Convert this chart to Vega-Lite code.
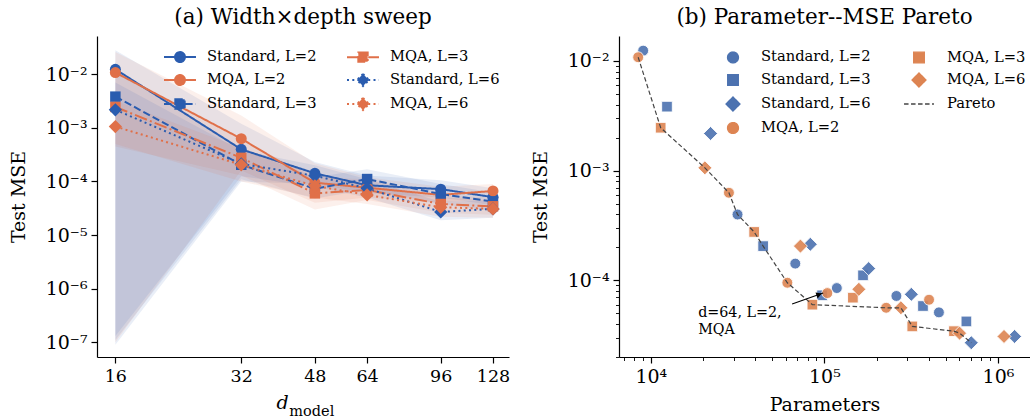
{
  "$schema": "https://vega.github.io/schema/vega-lite/v6.json",
  "padding": {"left": 9, "top": 6, "right": 0, "bottom": 0},
  "datasets": {
    "left": [
      {"s": "Standard, L=2", "L": 2, "d": 16, "mse": 0.0124, "lo": 9e-8, "hi": 0.028},
      {"s": "Standard, L=2", "L": 2, "d": 32, "mse": 0.000398, "lo": 0.0001, "hi": 0.0012},
      {"s": "Standard, L=2", "L": 2, "d": 48, "mse": 0.000142, "lo": 0.00009, "hi": 0.00023},
      {"s": "Standard, L=2", "L": 2, "d": 64, "mse": 0.000085, "lo": 0.00006, "hi": 0.00013},
      {"s": "Standard, L=2", "L": 2, "d": 96, "mse": 0.000072, "lo": 0.00005, "hi": 0.000105},
      {"s": "Standard, L=2", "L": 2, "d": 128, "mse": 0.000051, "lo": 0.000036, "hi": 0.000075},
      {"s": "MQA, L=2", "L": 2, "d": 16, "mse": 0.0108, "lo": 1e-7, "hi": 0.026},
      {"s": "MQA, L=2", "L": 2, "d": 32, "mse": 0.000628, "lo": 0.00016, "hi": 0.0017},
      {"s": "MQA, L=2", "L": 2, "d": 48, "mse": 0.000095, "lo": 0.00004, "hi": 0.00022},
      {"s": "MQA, L=2", "L": 2, "d": 64, "mse": 0.0000765, "lo": 0.00005, "hi": 0.00012},
      {"s": "MQA, L=2", "L": 2, "d": 96, "mse": 0.0000562, "lo": 0.00004, "hi": 0.00008},
      {"s": "MQA, L=2", "L": 2, "d": 128, "mse": 0.0000665, "lo": 0.00005, "hi": 0.00009},
      {"s": "Standard, L=3", "L": 3, "d": 16, "mse": 0.00383, "lo": 1.1e-7, "hi": 0.013},
      {"s": "Standard, L=3", "L": 3, "d": 32, "mse": 0.000205, "lo": 0.00011, "hi": 0.0004},
      {"s": "Standard, L=3", "L": 3, "d": 48, "mse": 0.000073, "lo": 0.000048, "hi": 0.00012},
      {"s": "Standard, L=3", "L": 3, "d": 64, "mse": 0.000111, "lo": 0.00007, "hi": 0.00017},
      {"s": "Standard, L=3", "L": 3, "d": 96, "mse": 0.0000583, "lo": 0.000038, "hi": 0.00009},
      {"s": "Standard, L=3", "L": 3, "d": 128, "mse": 0.0000422, "lo": 0.000028, "hi": 0.000062},
      {"s": "MQA, L=3", "L": 3, "d": 16, "mse": 0.00246, "lo": 0.00045, "hi": 0.011},
      {"s": "MQA, L=3", "L": 3, "d": 32, "mse": 0.000276, "lo": 0.00013, "hi": 0.0006},
      {"s": "MQA, L=3", "L": 3, "d": 48, "mse": 0.00006, "lo": 0.00003, "hi": 0.00012},
      {"s": "MQA, L=3", "L": 3, "d": 64, "mse": 0.0000695, "lo": 0.000045, "hi": 0.00011},
      {"s": "MQA, L=3", "L": 3, "d": 96, "mse": 0.000038, "lo": 0.000026, "hi": 0.000056},
      {"s": "MQA, L=3", "L": 3, "d": 128, "mse": 0.0000344, "lo": 0.000024, "hi": 0.000049},
      {"s": "Standard, L=6", "L": 6, "d": 16, "mse": 0.00218, "lo": 1.3e-7, "hi": 0.007},
      {"s": "Standard, L=6", "L": 6, "d": 32, "mse": 0.000213, "lo": 0.000125, "hi": 0.00038},
      {"s": "Standard, L=6", "L": 6, "d": 48, "mse": 0.000128, "lo": 0.00008, "hi": 0.0002},
      {"s": "Standard, L=6", "L": 6, "d": 64, "mse": 0.0000745, "lo": 0.00005, "hi": 0.00011},
      {"s": "Standard, L=6", "L": 6, "d": 96, "mse": 0.000027, "lo": 0.000019, "hi": 0.000042},
      {"s": "Standard, L=6", "L": 6, "d": 128, "mse": 0.0000308, "lo": 0.000021, "hi": 0.000045},
      {"s": "MQA, L=6", "L": 6, "d": 16, "mse": 0.00106, "lo": 0.0005, "hi": 0.0032},
      {"s": "MQA, L=6", "L": 6, "d": 32, "mse": 0.000205, "lo": 0.0001, "hi": 0.00042},
      {"s": "MQA, L=6", "L": 6, "d": 48, "mse": 0.0000828, "lo": 0.00005, "hi": 0.00014},
      {"s": "MQA, L=6", "L": 6, "d": 64, "mse": 0.0000562, "lo": 0.000038, "hi": 0.000085},
      {"s": "MQA, L=6", "L": 6, "d": 96, "mse": 0.000033, "lo": 0.000022, "hi": 0.00005},
      {"s": "MQA, L=6", "L": 6, "d": 128, "mse": 0.0000308, "lo": 0.000021, "hi": 0.000045}
    ],
    "pts": [
      {"s": "Standard, L=2", "p": 9040, "mse": 0.0124},
      {"s": "Standard, L=2", "p": 31600, "mse": 0.000398},
      {"s": "Standard, L=2", "p": 68000, "mse": 0.000142},
      {"s": "Standard, L=2", "p": 118000, "mse": 0.000085},
      {"s": "Standard, L=2", "p": 260000, "mse": 0.000072},
      {"s": "Standard, L=2", "p": 457000, "mse": 0.000051},
      {"s": "Standard, L=3", "p": 12400, "mse": 0.00383},
      {"s": "Standard, L=3", "p": 44400, "mse": 0.000205},
      {"s": "Standard, L=3", "p": 97000, "mse": 0.000073},
      {"s": "Standard, L=3", "p": 167000, "mse": 0.000111},
      {"s": "Standard, L=3", "p": 370000, "mse": 0.0000583},
      {"s": "Standard, L=3", "p": 658000, "mse": 0.0000422},
      {"s": "Standard, L=6", "p": 22100, "mse": 0.00218},
      {"s": "Standard, L=6", "p": 83000, "mse": 0.000213},
      {"s": "Standard, L=6", "p": 180000, "mse": 0.000128},
      {"s": "Standard, L=6", "p": 317000, "mse": 0.0000745},
      {"s": "Standard, L=6", "p": 702000, "mse": 0.000027},
      {"s": "Standard, L=6", "p": 1247000, "mse": 0.0000308},
      {"s": "MQA, L=2", "p": 8460, "mse": 0.0108},
      {"s": "MQA, L=2", "p": 28200, "mse": 0.000628},
      {"s": "MQA, L=2", "p": 61200, "mse": 0.000095},
      {"s": "MQA, L=2", "p": 104000, "mse": 0.0000765},
      {"s": "MQA, L=2", "p": 227000, "mse": 0.0000562},
      {"s": "MQA, L=2", "p": 401000, "mse": 0.0000665},
      {"s": "MQA, L=3", "p": 11400, "mse": 0.00246},
      {"s": "MQA, L=3", "p": 39400, "mse": 0.000276},
      {"s": "MQA, L=3", "p": 85300, "mse": 0.00006},
      {"s": "MQA, L=3", "p": 146000, "mse": 0.0000695},
      {"s": "MQA, L=3", "p": 321000, "mse": 0.000038},
      {"s": "MQA, L=3", "p": 558000, "mse": 0.0000344},
      {"s": "MQA, L=6", "p": 20500, "mse": 0.00106},
      {"s": "MQA, L=6", "p": 72800, "mse": 0.000205},
      {"s": "MQA, L=6", "p": 158000, "mse": 0.0000828},
      {"s": "MQA, L=6", "p": 276000, "mse": 0.0000562},
      {"s": "MQA, L=6", "p": 601000, "mse": 0.000033},
      {"s": "MQA, L=6", "p": 1084000, "mse": 0.0000308}
    ],
    "pareto": [
      {"s": "Pareto", "p": 8460, "mse": 0.0108},
      {"s": "Pareto", "p": 11400, "mse": 0.00246},
      {"s": "Pareto", "p": 20500, "mse": 0.00106},
      {"s": "Pareto", "p": 28200, "mse": 0.000628},
      {"s": "Pareto", "p": 31600, "mse": 0.000398},
      {"s": "Pareto", "p": 39400, "mse": 0.000276},
      {"s": "Pareto", "p": 44400, "mse": 0.000205},
      {"s": "Pareto", "p": 61200, "mse": 0.000095},
      {"s": "Pareto", "p": 85300, "mse": 0.00006},
      {"s": "Pareto", "p": 227000, "mse": 0.0000562},
      {"s": "Pareto", "p": 276000, "mse": 0.0000562},
      {"s": "Pareto", "p": 321000, "mse": 0.000038},
      {"s": "Pareto", "p": 558000, "mse": 0.0000344},
      {"s": "Pareto", "p": 601000, "mse": 0.000033},
      {"s": "Pareto", "p": 702000, "mse": 0.000027}
    ]
  },
  "hconcat": [
    {
      "width": 412,
      "height": 321,
      "title": {"text": "(a) Width×depth sweep", "offset": 8, "frame": "group"},
      "data": {"name": "left"},
      "layer": [
        {
          "mark": {"type": "area", "opacity": 0.1},
          "encoding": {
            "x": {"field": "d", "type": "quantitative",
              "scale": {"type": "log", "base": 2, "domain": [14.46, 139.8], "nice": false},
              "axis": {"values": [16, 32, 48, 64, 96, 128], "title": "d", "titleFontStyle": "italic", "titleFontSize": 19, "titleX": 185, "titleAlign": "center", "titlePadding": 9}},
            "y": {"field": "lo", "type": "quantitative",
              "scale": {"type": "log", "domain": [5.3e-8, 0.0519], "nice": false},
              "axis": {"values": [0.01, 0.001, 0.0001, 0.00001, 0.000001, 0.0000001], "title": "Test MSE", "titlePadding": 17, "labelFontSize": 19,
                "labelExpr": "'10' + (datum.value < 1 ? '⁻' : '') + ['⁰','¹','²','³','⁴','⁵','⁶','⁷','⁸','⁹'][abs(round(log(datum.value)/LN10))]"}},
            "y2": {"field": "hi"},
            "color": {"field": "s", "type": "nominal", "title": null,
              "scale": {"domain": ["Standard, L=2", "MQA, L=2", "Standard, L=3", "MQA, L=3", "Standard, L=6", "MQA, L=6"],
                "range": ["#2a5caf", "#e07049", "#2a5caf", "#e07049", "#2a5caf", "#e07049"]},
              "legend": {"orient": "none", "legendX": 69, "legendY": 7, "columns": 2, "columnPadding": 26, "rowPadding": 0,
                "symbolSize": 676, "symbolStrokeWidth": 2, "symbolOpacity": 1, "labelFontSize": 14.7, "labelOffset": 13}}
          }
        },
        {
          "mark": {"type": "line", "strokeWidth": 2},
          "encoding": {
            "x": {"field": "d", "type": "quantitative"},
            "y": {"field": "mse", "type": "quantitative"},
            "color": {"field": "s", "type": "nominal"},
            "strokeDash": {"field": "s", "type": "nominal",
              "scale": {"domain": ["Standard, L=2", "MQA, L=2", "Standard, L=3", "MQA, L=3", "Standard, L=6", "MQA, L=6"],
                "range": [[1, 0], [1, 0], [7.4, 3.2], [12.8, 3.2, 2, 3.2], [2, 3.3], [2, 3.3]]}}
          }
        },
        {
          "transform": [{"filter": "datum.L == 2"}],
          "mark": {"type": "point", "filled": true, "opacity": 1, "shape": "circle", "size": 121},
          "encoding": {
            "x": {"field": "d", "type": "quantitative"},
            "y": {"field": "mse", "type": "quantitative"},
            "color": {"field": "s", "type": "nominal"}
          }
        },
        {
          "transform": [{"filter": "datum.L == 3"}],
          "mark": {"type": "point", "filled": true, "opacity": 1, "shape": "square", "size": 110},
          "encoding": {
            "x": {"field": "d", "type": "quantitative"},
            "y": {"field": "mse", "type": "quantitative"},
            "color": {"field": "s", "type": "nominal"}
          }
        },
        {
          "transform": [{"filter": "datum.L == 6"}],
          "mark": {"type": "point", "filled": true, "opacity": 1, "shape": "diamond", "size": 175},
          "encoding": {
            "x": {"field": "d", "type": "quantitative"},
            "y": {"field": "mse", "type": "quantitative"},
            "color": {"field": "s", "type": "nominal"}
          }
        },
        {
          "mark": {"type": "point", "filled": true, "opacity": 0},
          "encoding": {
            "x": {"field": "d", "type": "quantitative"},
            "y": {"field": "mse", "type": "quantitative"},
            "color": {"field": "s", "type": "nominal"},
            "shape": {"field": "s", "type": "nominal",
              "scale": {"domain": ["Standard, L=2", "MQA, L=2", "Standard, L=3", "MQA, L=3", "Standard, L=6", "MQA, L=6"],
                "range": [
                  "M-1.23,0H1.23M0.38,0A0.38,0.38,0,1,1,-0.38,0A0.38,0.38,0,1,1,0.38,0Z",
                  "M-1.23,0H1.23M0.38,0A0.38,0.38,0,1,1,-0.38,0A0.38,0.38,0,1,1,0.38,0Z",
                  "M-1.23,0H1.23M-0.36,-0.36H0.36V0.36H-0.36Z",
                  "M-1.23,0H1.23M-0.36,-0.36H0.36V0.36H-0.36Z",
                  "M-1.23,0H1.23M0,-0.46L0.46,0L0,0.46L-0.46,0Z",
                  "M-1.23,0H1.23M0,-0.46L0.46,0L0,0.46L-0.46,0Z"]}}
          }
        },
        {
          "data": {"values": [{"t": "model"}]},
          "mark": {"type": "text", "align": "left", "baseline": "alphabetic", "fontSize": 14.5, "font": "DejaVu Serif", "color": "#000"},
          "encoding": {
            "x": {"datum": 41.7, "type": "quantitative"},
            "y": {"datum": 4.2e-9, "type": "quantitative"},
            "text": {"field": "t"}
          }
        }
      ]
    },
    {
      "width": 411,
      "height": 321,
      "title": {"text": "(b) Parameter--MSE Pareto", "offset": 8, "frame": "group"},
      "resolve": {"axis": {"x": "independent", "y": "independent"}},
      "layer": [
        {
          "data": {"name": "pts"},
          "mark": {"type": "point", "filled": true, "opacity": 0.9, "stroke": "#ffffff", "strokeWidth": 0.9, "size": 676},
          "encoding": {
            "x": {"field": "p", "type": "quantitative",
              "scale": {"type": "log", "domain": [6560, 1530000], "nice": false},
              "axis": {"values": [10000, 100000, 1000000], "title": "Parameters", "labelFontSize": 19, "titlePadding": 9,
                "labelExpr": "'10' + ['⁰','¹','²','³','⁴','⁵','⁶','⁷','⁸','⁹'][abs(round(log(datum.value)/LN10))]"}},
            "y": {"field": "mse", "type": "quantitative",
              "scale": {"type": "log", "domain": [0.00002, 0.01687], "nice": false},
              "axis": {"values": [0.01, 0.001, 0.0001], "title": "Test MSE", "titlePadding": 17, "labelFontSize": 19,
                "labelExpr": "'10' + (datum.value < 1 ? '⁻' : '') + ['⁰','¹','²','³','⁴','⁵','⁶','⁷','⁸','⁹'][abs(round(log(datum.value)/LN10))]"}},
            "color": {"field": "s", "type": "nominal", "title": null,
              "scale": {"domain": ["Standard, L=2", "Standard, L=3", "Standard, L=6", "MQA, L=2", "MQA, L=3", "MQA, L=6", "Pareto"],
                "range": ["#4c72b0", "#4c72b0", "#4c72b0", "#dd8452", "#dd8452", "#dd8452", "#444444"]},
              "legend": {"orient": "none", "legendX": 100, "legendY": 7, "columns": 2, "columnPadding": 30, "rowPadding": 0,
                "symbolSize": 676, "symbolStrokeWidth": 1.3, "symbolOpacity": 1, "labelFontSize": 14.7, "labelOffset": 14}},
            "shape": {"field": "s", "type": "nominal",
              "scale": {"domain": ["Standard, L=2", "Standard, L=3", "Standard, L=6", "MQA, L=2", "MQA, L=3", "MQA, L=6", "Pareto"],
                "range": [
                  "M0.42,0A0.42,0.42,0,1,1,-0.42,0A0.42,0.42,0,1,1,0.42,0Z",
                  "M-0.41,-0.41H0.41V0.41H-0.41Z",
                  "M0,-0.54L0.54,0L0,0.54L-0.54,0Z",
                  "M0.42,0A0.42,0.42,0,1,1,-0.42,0A0.42,0.42,0,1,1,0.42,0Z",
                  "M-0.41,-0.41H0.41V0.41H-0.41Z",
                  "M0,-0.54L0.54,0L0,0.54L-0.54,0Z",
                  "M-1.15,0H1.15"]}}
          }
        },
        {
          "data": {"name": "pareto"},
          "mark": {"type": "line", "strokeWidth": 1.2},
          "encoding": {
            "x": {"field": "p", "type": "quantitative", "axis": null},
            "y": {"field": "mse", "type": "quantitative", "axis": null},
            "color": {"field": "s", "type": "nominal"},
            "strokeDash": {"field": "s", "type": "nominal",
              "scale": {"domain": ["Standard, L=2", "Standard, L=3", "Standard, L=6", "MQA, L=2", "MQA, L=3", "MQA, L=6", "Pareto"],
                "range": [[1, 0], [1, 0], [1, 0], [1, 0], [1, 0], [1, 0], [4.5, 2.5]]}}
          }
        },
        {
          "data": {"values": [{"x1": 65200, "y1": 0.0000607, "x2": 98400, "y2": 0.0000765}]},
          "mark": {"type": "rule", "color": "#000", "strokeWidth": 1.1},
          "encoding": {
            "x": {"field": "x1", "type": "quantitative", "axis": null},
            "y": {"field": "y1", "type": "quantitative", "axis": null},
            "x2": {"field": "x2"},
            "y2": {"field": "y2"}
          }
        },
        {
          "data": {"values": [{"x": 93300, "y": 0.0000742}]},
          "mark": {"type": "point", "shape": "triangle-right", "filled": true, "color": "#000", "opacity": 1, "size": 40, "angle": -19.5},
          "encoding": {
            "x": {"field": "x", "type": "quantitative", "axis": null},
            "y": {"field": "y", "type": "quantitative", "axis": null}
          }
        },
        {
          "data": {"values": [{"x": 18740, "y": 0.0000463, "t": "d=64, L=2,\nMQA"}]},
          "mark": {"type": "text", "align": "left", "baseline": "alphabetic", "lineBreak": "\n", "lineHeight": 17, "fontSize": 14.3, "font": "DejaVu Serif", "color": "#000"},
          "encoding": {
            "x": {"field": "x", "type": "quantitative", "axis": null},
            "y": {"field": "y", "type": "quantitative", "axis": null},
            "text": {"field": "t"}
          }
        },
        {
          "data": {"name": "pareto"},
          "mark": {"type": "point", "opacity": 0},
          "encoding": {
            "x": {"field": "p", "type": "quantitative",
              "axis": {"orient": "bottom", "values": [7000, 8000, 9000, 20000, 30000, 40000, 50000, 60000, 70000, 80000, 90000, 200000, 300000, 400000, 500000, 600000, 700000, 800000, 900000], "labels": false, "domain": false, "tickSize": 3.5, "tickWidth": 0.9, "title": null}},
            "y": {"field": "mse", "type": "quantitative",
              "axis": {"orient": "left", "values": [0.00002, 0.00003, 0.00004, 0.00005, 0.00006, 0.00007, 0.00008, 0.00009, 0.0002, 0.0003, 0.0004, 0.0005, 0.0006, 0.0007, 0.0008, 0.0009, 0.002, 0.003, 0.004, 0.005, 0.006, 0.007, 0.008, 0.009], "labels": false, "domain": false, "tickSize": 3.5, "tickWidth": 0.9, "title": null}}
          }
        }
      ]
    }
  ],
  "spacing": 21,
  "resolve": {
    "scale": {"color": "independent", "shape": "independent", "strokeDash": "independent", "x": "independent", "y": "independent"},
    "legend": {"color": "independent", "shape": "independent", "strokeDash": "independent"}
  },
  "config": {
    "font": "DejaVu Serif",
    "view": {"stroke": null},
    "axis": {
      "labelFont": "DejaVu Serif", "titleFont": "DejaVu Serif", "labelFontSize": 17.5, "titleFontSize": 19,
      "titleFontWeight": "normal", "labelColor": "#000", "titleColor": "#000", "domainColor": "#000", "tickColor": "#000",
      "grid": false, "tickSize": 6, "domainWidth": 1.2, "tickWidth": 1.2, "labelPadding": 4, "labelAngle": 0
    },
    "title": {"font": "DejaVu Serif", "fontSize": 21.5, "fontWeight": "normal", "color": "#000"},
    "legend": {"labelFont": "DejaVu Serif", "labelColor": "#000", "labelFontSize": 14.7}
  }
}
